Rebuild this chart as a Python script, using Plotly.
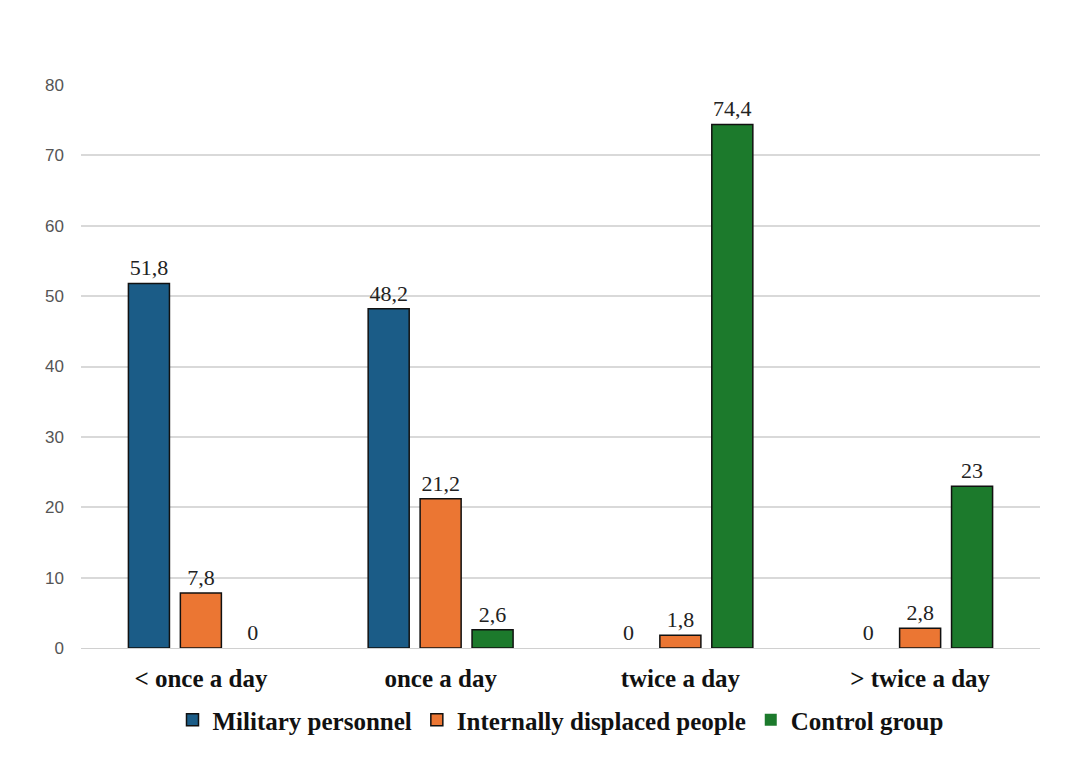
import plotly.graph_objects as go

categories = ["< once a day", "once a day", "twice a day", "> twice a day"]
military = [51.8, 48.2, 0, 0]
idp = [7.8, 21.2, 1.8, 2.8]
control = [0, 2.6, 74.4, 23]
series_names = ["Military personnel", "Internally displaced people", "Control group"]
colors = ["#1B5C87", "#EB7633", "#1C7A2C"]
y_ticks = [0, 10, 20, 30, 40, 50, 60, 70, 80]


def fmt(v):
    return f"{v:g}".replace(".", ",")


fig = go.Figure()
for name, vals, col in zip(series_names, [military, idp, control], colors):
    fig.add_trace(go.Bar(
        name=name, x=categories, y=vals,
        marker=dict(color=col, line=dict(color="#111111",
                                         width=[0 if v == 0 else 1.5 for v in vals])),
        text=[fmt(v) for v in vals], textposition="outside",
        textfont=dict(family="Liberation Serif", size=22, color="#222222"),
        cliponaxis=False,
    ))

fig.update_layout(
    width=1091, height=765,
    paper_bgcolor="white", plot_bgcolor="white",
    margin=dict(l=73, r=59, t=77, b=125),
    barmode="group", bargap=0.35, bargroupgap=0.21,
    showlegend=True,
    legend=dict(orientation="h", x=0.5, xanchor="center", y=-0.128, yanchor="middle",
                font=dict(family="Liberation Serif", size=25, color="#111111", weight="bold"),
                traceorder="normal"),
    xaxis=dict(tickfont=dict(family="Liberation Serif", size=25, color="#111111", weight="bold"),
               showline=True, linecolor="#d0d0d0", linewidth=1, ticks="",
               ticklabelstandoff=8),
    yaxis=dict(range=[0, 80], tickvals=y_ticks, showgrid=True, gridcolor="#d9d9d9",
               gridwidth=1.5, zeroline=False, showline=False,
               tickfont=dict(family="Liberation Sans", size=17, color="#555555"),
               ticklabelstandoff=16),
)

fig.write_html("out.html")
